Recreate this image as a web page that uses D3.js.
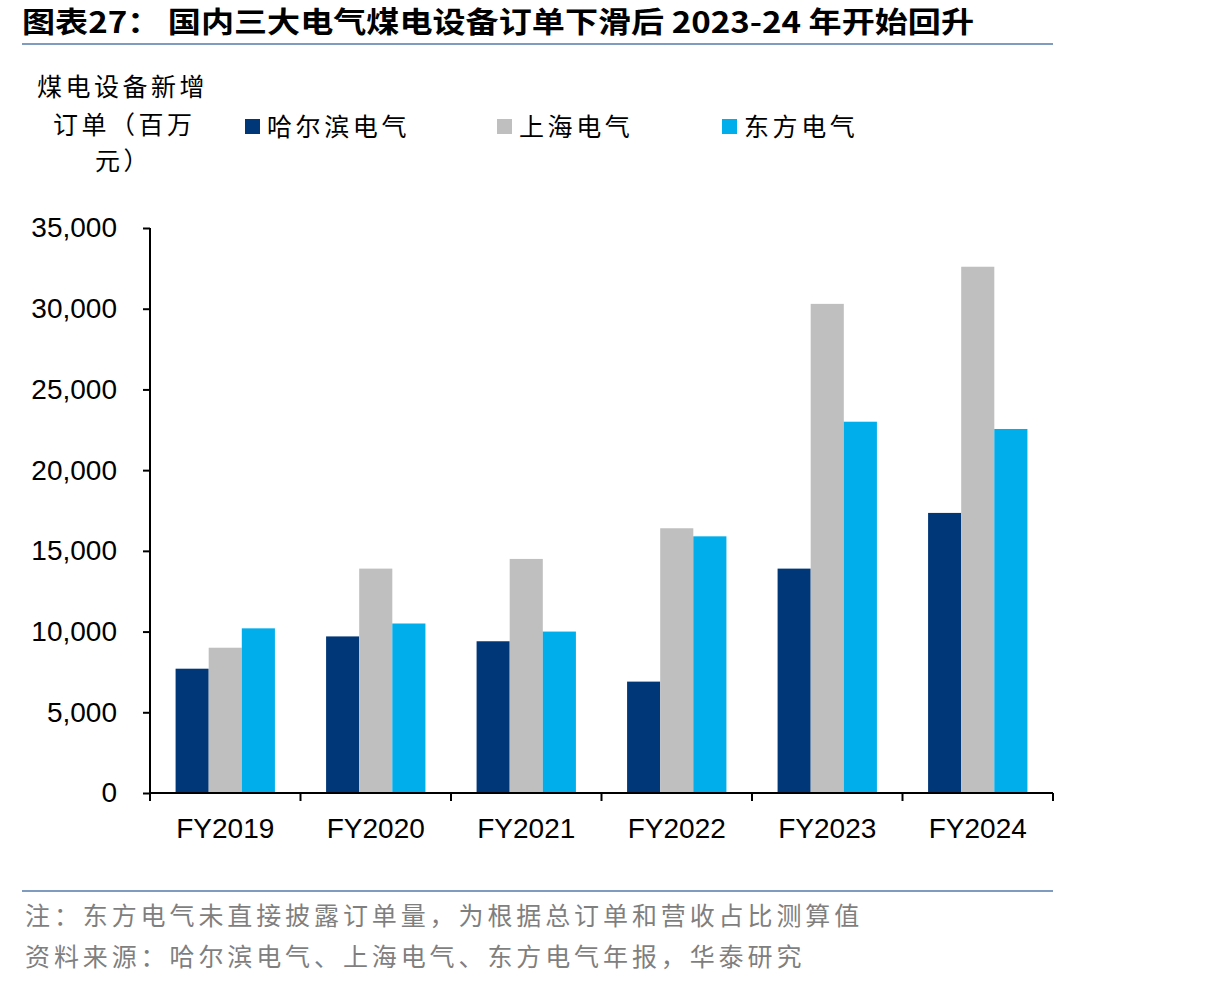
<!DOCTYPE html>
<html>
<head>
<meta charset="utf-8">
<style>
  body { margin: 0; background: #fff; }
  text { font-family: "Noto Sans CJK SC", sans-serif; }
  text.num { font-family: "Liberation Sans", Arial, sans-serif; }
</style>
<script src="https://cdn.jsdelivr.net/npm/d3@7"></script>
</head>
<body>
<script>
var width = 1206, height = 988;

var categories = ["FY2019", "FY2020", "FY2021", "FY2022", "FY2023", "FY2024"];
var seriesNames = ["哈尔滨电气", "上海电气", "东方电气"];
var seriesColors = ["#003778", "#bfbfbf", "#00aeeb"];
var harbin   = [7700, 9700, 9400, 6900, 13900, 17350];
var shanghai = [9000, 13900, 14500, 16400, 30300, 32600];
var dongfang = [10200, 10500, 10000, 15900, 23000, 22550];
var yTicks = [0, 5000, 10000, 15000, 20000, 25000, 30000, 35000];

var seriesValues = [harbin, shanghai, dongfang];

var margin = {left: 150, right: 153, top: 228, bottom: 195};
var plotW = width - margin.left - margin.right;
var plotH = height - margin.top - margin.bottom;

var svg = d3.select("body").append("svg")
    .attr("width", width)
    .attr("height", height);

// title
svg.append("text")
    .attr("x", 22).attr("y", 33)
    .attr("font-size", 29).attr("font-weight", "bold")
    .attr("textLength", 952).attr("lengthAdjust", "spacingAndGlyphs")
    .text("图表27：  国内三大电气煤电设备订单下滑后 2023-24 年开始回升");
svg.append("line")
    .attr("x1", 22).attr("x2", 1053).attr("y1", 44).attr("y2", 44)
    .attr("stroke", "#7f9bc0").attr("stroke-width", 2);

// y unit label
var unitLines = [["煤电设备新增", 37, 96], ["订单（百万", 53, 134], ["元）", 95, 170]];
unitLines.forEach(function(d){
    svg.append("text").attr("x", d[1]).attr("y", d[2])
       .attr("font-size", 25).attr("letter-spacing", 3.5).attr("fill", "#000").text(d[0]);
});

// legend
var legendX = [245, 497, 722];
seriesNames.forEach(function(name, i){
    svg.append("rect").attr("x", legendX[i]).attr("y", 119)
       .attr("width", 15).attr("height", 15).attr("fill", seriesColors[i]);
    svg.append("text").attr("x", legendX[i] + 22).attr("y", 136)
       .attr("font-size", 25).attr("letter-spacing", 3.6).text(name);
});

var g = svg.append("g").attr("transform", "translate(" + margin.left + "," + margin.top + ")");

var x0 = d3.scaleBand().domain(categories).range([0, plotW]).paddingInner(0.34).paddingOuter(0.17);
var x1 = d3.scaleBand().domain(d3.range(3)).range([0, x0.bandwidth()]);
var y = d3.scaleLinear().domain([0, 35000]).range([plotH, 0]);

// bars
seriesValues.forEach(function(vals, s){
    g.selectAll(".bar" + s).data(vals).enter().append("rect")
        .attr("x", function(d, i){ return x0(categories[i]) + x1(s); })
        .attr("y", function(d){ return y(d); })
        .attr("width", x1.bandwidth())
        .attr("height", function(d){ return plotH - y(d); })
        .attr("fill", seriesColors[s]);
});

// y axis
var yAxis = d3.axisLeft(y).tickValues(yTicks).tickSize(7).tickPadding(26)
    .tickFormat(d3.format(","));
var ya = g.append("g").call(yAxis);
ya.select(".domain").attr("stroke", "#000").attr("stroke-width", 2).attr("d", "M0," + plotH + "V0");
ya.selectAll(".tick line").attr("stroke", "#000").attr("stroke-width", 2);
ya.selectAll("text").attr("class", "num").attr("font-size", 28).attr("fill", "#000");

// x axis
var xa = g.append("g").attr("transform", "translate(0," + plotH + ")");
xa.append("line").attr("x1", 0).attr("x2", plotW).attr("y1", 0).attr("y2", 0)
    .attr("stroke", "#000").attr("stroke-width", 2);
var boundaries = d3.range(categories.length + 1).map(function(i){ return i * plotW / categories.length; });
xa.selectAll(".xt").data(boundaries).enter().append("line")
    .attr("x1", function(d){ return d; }).attr("x2", function(d){ return d; })
    .attr("y1", 0).attr("y2", 8).attr("stroke", "#000").attr("stroke-width", 2);
xa.selectAll(".xl").data(categories).enter().append("text")
    .attr("class", "num")
    .attr("x", function(d){ return x0(d) + x0.bandwidth() / 2; })
    .attr("y", 45)
    .attr("text-anchor", "middle")
    .attr("font-size", 28)
    .text(function(d){ return d; });

// footer
svg.append("line")
    .attr("x1", 22).attr("x2", 1053).attr("y1", 891).attr("y2", 891)
    .attr("stroke", "#7f9bc0").attr("stroke-width", 2);
svg.append("text").attr("x", 25).attr("y", 925).attr("font-size", 25).attr("letter-spacing", 3.9)
    .attr("fill", "#7f7f7f")
    .text("注：东方电气未直接披露订单量，为根据总订单和营收占比测算值");
svg.append("text").attr("x", 25).attr("y", 966).attr("font-size", 25).attr("letter-spacing", 3.9)
    .attr("fill", "#7f7f7f")
    .text("资料来源：哈尔滨电气、上海电气、东方电气年报，华泰研究");
</script>
</body>
</html>
